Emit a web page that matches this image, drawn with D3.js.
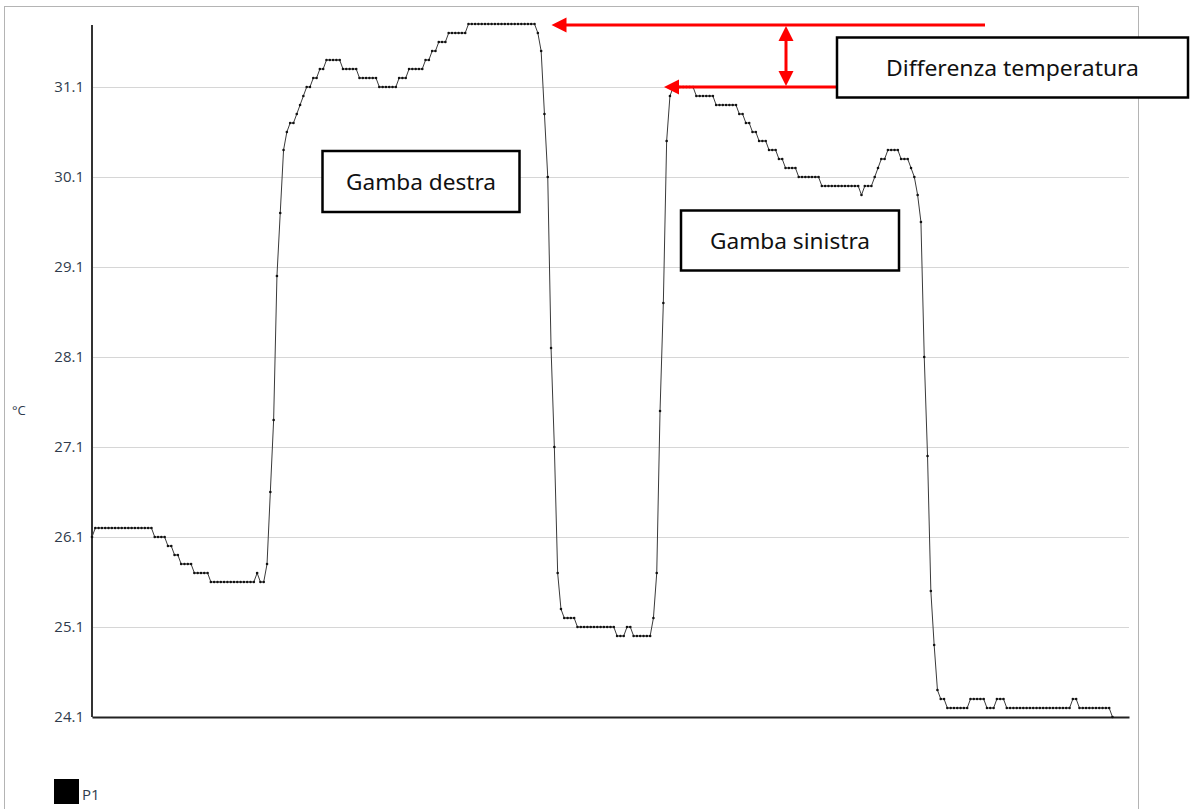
<!DOCTYPE html>
<html>
<head>
<meta charset="utf-8">
<script src="https://cdnjs.cloudflare.com/ajax/libs/d3/7.8.5/d3.min.js"></script>
<style>
    body { margin: 0; background: #fff; }
    svg { display: block; }
</style>
</head>
<body>
<div id="chart"></div>
<script>
// temperature readings of sensor P1, stored as runs: level + how many samples stay on it
const tempLevels = [
    26.1, 26.2, 26.1, 26.0, 25.9, 25.8, 25.7, 25.6, 25.7, 25.6,
    25.8, 26.6, 27.4, 29.0, 29.7, 30.4, 30.6, 30.7, 30.8, 30.9,
    31.0, 31.1, 31.2, 31.3, 31.4, 31.3, 31.2, 31.1, 31.2, 31.3,
    31.4, 31.5, 31.6, 31.7, 31.8, 31.7, 31.5, 30.8, 30.1, 28.2,
    27.1, 25.7, 25.3, 25.2, 25.1, 25.0, 25.1, 25.0, 25.2, 25.7,
    27.5, 28.7, 30.5, 31.0, 31.1, 31.0, 30.9, 30.8, 30.7, 30.6,
    30.5, 30.4, 30.3, 30.2, 30.1, 30.0, 29.9, 30.0, 30.1, 30.2,
    30.3, 30.4, 30.3, 30.2, 30.1, 29.9, 29.6, 28.1, 27.0, 25.5,
    24.9, 24.4, 24.3, 24.2, 24.3, 24.2, 24.3, 24.2, 24.3, 24.2,
    24.1
];
const tempRepeats = [
    1, 18, 4, 2, 2, 4, 5, 14, 1, 2,
    1, 1, 1, 1, 1, 1, 1, 2, 1, 1,
    1, 2, 2, 2, 5, 5, 6, 6, 3, 5,
    2, 2, 3, 6, 21, 1, 1, 1, 1, 1,
    1, 1, 1, 4, 12, 3, 2, 6, 1, 1,
    1, 1, 1, 1, 7, 6, 7, 2, 2, 2,
    3, 3, 2, 4, 7, 12, 1, 3, 1, 1,
    2, 4, 3, 1, 1, 1, 1, 1, 1, 1,
    1, 1, 2, 7, 5, 3, 3, 20, 2, 10,
    1
];
const yTicks = [24.1, 25.1, 26.1, 27.1, 28.1, 29.1, 30.1, 31.1];
const seriesName = 'P1';
const unitLabel = '°C';
const boxLabels = ['Gamba destra', 'Gamba sinistra', 'Differenza temperatura'];

function init(){

    // expand the runs into one value per sample
    const values = [];
    tempLevels.forEach((v, i) => {
        for (let k = 0; k < tempRepeats[i]; k++) values.push(v);
    });

    const width = 1191;
    const height = 809;
    const left = 92, right = 1129, bottom = 717;
    const textColor = '#2f3b4c';

    const svg = d3.select('#chart')
        .append('svg')
        .attr('width', width)
        .attr('height', height);

    // outer frame
    svg.append('rect')
        .attr('x', 4.5).attr('y', 6.5)
        .attr('width', 1134).attr('height', 820)
        .attr('fill', 'none')
        .attr('stroke', '#b4b4b4');

    const x = d3.scaleLinear()
        .domain([0, 314])
        .range([left, right]);

    const y = d3.scaleLinear()
        .domain([24.1, 31.1])
        .range([bottom, 87]);

    /*************************** grid + axes **************************/

    const grid = svg.append('g')
        .attr('transform', `translate(${left},0)`)
        .call(d3.axisLeft(y).tickValues(yTicks).tickSize(-(right - left)).tickFormat(''));
    grid.select('.domain').remove();
    grid.selectAll('line').attr('stroke', '#d6d6d6');

    const yAxis = svg.append('g')
        .attr('transform', `translate(${left - 8},0)`)
        .call(d3.axisLeft(y).tickValues(yTicks).tickSize(0).tickPadding(0).tickFormat(d3.format('.1f')));
    yAxis.select('.domain').remove();
    yAxis.selectAll('text')
        .attr('font-family', 'Open Sans')
        .attr('font-size', 15)
        .attr('fill', textColor);

    svg.append('line')
        .attr('x1', left).attr('x2', left)
        .attr('y1', bottom).attr('y2', y(d3.max(values)) + 1)
        .attr('stroke', '#333')
        .attr('stroke-width', 2);

    const xAxis = svg.append('g')
        .attr('transform', `translate(0,${bottom})`)
        .call(d3.axisBottom(x).tickValues([]).tickSizeOuter(0));
    xAxis.select('.domain')
        .attr('stroke', '#222')
        .attr('stroke-width', 2);

    svg.append('text')
        .attr('x', 12).attr('y', 415)
        .attr('font-family', 'Open Sans')
        .attr('font-size', 13)
        .attr('fill', textColor)
        .text(unitLabel);

    /*************************** series **************************/

    const line = d3.line()
        .x((d, i) => x(i))
        .y(d => y(d));

    svg.append('path')
        .datum(values)
        .attr('d', line)
        .attr('fill', 'none')
        .attr('stroke', '#3a3a3a')
        .attr('stroke-width', 1);

    svg.append('g')
        .selectAll('circle')
        .data(values)
        .enter().append('circle')
        .attr('cx', (d, i) => x(i))
        .attr('cy', d => y(d))
        .attr('r', 1.3)
        .attr('fill', '#111');

    // legend
    svg.append('rect')
        .attr('x', 54).attr('y', 779)
        .attr('width', 25).attr('height', 25)
        .attr('fill', '#000');
    svg.append('text')
        .attr('x', 82).attr('y', 800)
        .attr('font-family', 'Open Sans')
        .attr('font-size', 15)
        .attr('fill', textColor)
        .text(seriesName);

    /*************************** annotations **************************/

    const red = '#ff0000';
    const yHigh = y(d3.max(values)) + 1;
    const yLow = y(31.1);

    function hArrow(x1, tip, yy) {
        svg.append('line')
            .attr('x1', x1).attr('x2', tip + 12)
            .attr('y1', yy).attr('y2', yy)
            .attr('stroke', red).attr('stroke-width', 3);
        svg.append('path')
            .attr('d', `M${tip},${yy} L${tip + 15},${yy - 7.5} L${tip + 15},${yy + 7.5} Z`)
            .attr('fill', red);
    }
    hArrow(985, 551.5, yHigh);
    hArrow(840, 664, yLow);

    // double arrow between the two maxima
    const ax = 786;
    svg.append('line')
        .attr('x1', ax).attr('x2', ax)
        .attr('y1', yHigh + 10).attr('y2', yLow - 10)
        .attr('stroke', red).attr('stroke-width', 3);
    svg.append('path')
        .attr('d', `M${ax},${yHigh + 1} L${ax - 7.5},${yHigh + 16} L${ax + 7.5},${yHigh + 16} Z`)
        .attr('fill', red);
    svg.append('path')
        .attr('d', `M${ax},${yLow - 1} L${ax - 7.5},${yLow - 16} L${ax + 7.5},${yLow - 16} Z`)
        .attr('fill', red);

    // text boxes
    const boxes = [
        {x: 322.5, y: 151, w: 197, h: 61, tw: 150, label: boxLabels[0]},
        {x: 681, y: 210.5, w: 218, h: 60, tw: 160, label: boxLabels[1]},
        {x: 837, y: 37.5, w: 351, h: 60, tw: 253, label: boxLabels[2]}
    ];

    const bg = svg.append('g')
        .selectAll('g')
        .data(boxes)
        .enter().append('g');

    bg.append('rect')
        .attr('x', d => d.x).attr('y', d => d.y)
        .attr('width', d => d.w).attr('height', d => d.h)
        .attr('fill', '#fff')
        .attr('stroke', '#000')
        .attr('stroke-width', 2.5);

    bg.append('text')
        .attr('x', d => d.x + d.w / 2)
        .attr('y', d => d.y + d.h / 2 + 8)
        .attr('text-anchor', 'middle')
        .attr('font-family', 'Noto Sans')
        .attr('font-size', 22)
        .attr('textLength', d => d.tw)
        .attr('lengthAdjust', 'spacingAndGlyphs')
        .attr('fill', '#111')
        .text(d => d.label);
}

window.onload = init;
</script>
</body>
</html>
